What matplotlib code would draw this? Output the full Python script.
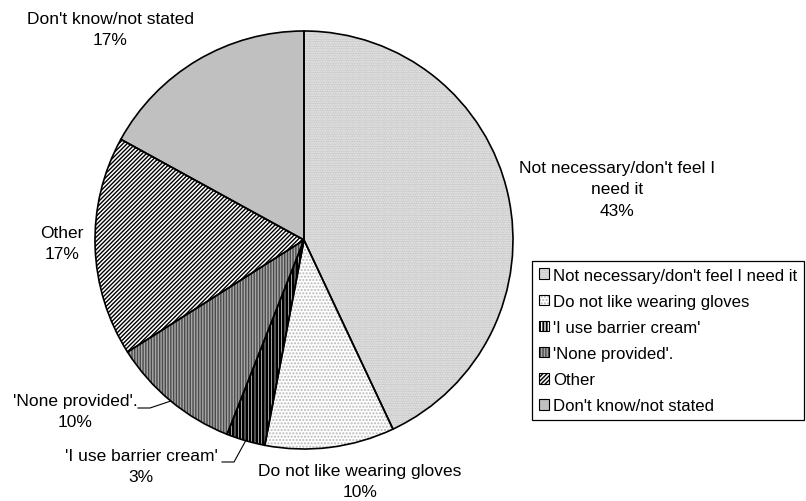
import matplotlib
matplotlib.use("Agg")
import matplotlib.pyplot as plt
import matplotlib.patches as mpatches
import numpy as np

plt.rcParams['font.family'] = ['Liberation Sans', 'DejaVu Sans']
plt.rcParams['hatch.linewidth'] = 1.0

# Reasons for not wearing gloves (percent of respondents)
categories = [
    "Not necessary/don't feel I need it",
    "Do not like wearing gloves",
    "'I use barrier cream'",
    "'None provided'.",
    "Other",
    "Don't know/not stated",
]
slice_labels = [
    "Not necessary/don't feel I\nneed it",
    "Do not like wearing gloves",
    "'I use barrier cream'",
    "'None provided'.",
    "Other",
    "Don't know/not stated",
]
values = [43, 10, 3, 10, 17, 17]

# Fill styles (face colour, hatch pattern, hatch colour, hatch line width)
faces = ['#c8c8c8', 'white', 'black', '#a8a8a8', 'white', '#c0c0c0']
hatches = ['.......', '.....', '|||||', '||||||', '////////', None]
hatch_colors = ['#ececec', '#b8b8b8', 'white', '#4a4a4a', 'black', 'none']
hatch_widths = [1.0, 1.0, 0.45, 1.0, 1.0, 1.0]


def style(patch, fc, h, hc, hw):
    patch.set_facecolor(fc)
    patch.set_edgecolor(hc)
    patch.set_linewidth(0)
    if h:
        patch.set_hatch(h)
        if hasattr(patch, 'set_hatch_linewidth'):
            patch.set_hatch_linewidth(hw)


W, H = 806, 502
fig = plt.figure(figsize=(W / 100, H / 100), dpi=100)
ax = fig.add_axes([0, 0, 1, 1])

cx, cy, r = 304, H - 241, 209

fills, _ = ax.pie(values, startangle=90, counterclock=False,
                  center=(cx, cy), radius=r)
for w, fc, h, hc, hw in zip(fills, faces, hatches, hatch_colors, hatch_widths):
    style(w, fc, h, hc, hw)

outlines, _ = ax.pie(values, startangle=90, counterclock=False,
                     center=(cx, cy), radius=r,
                     wedgeprops=dict(facecolor='none', edgecolor='black',
                                     linewidth=1.2))

ax.set_xlim(0, W)
ax.set_ylim(0, H)
ax.set_aspect('equal')
ax.axis('off')

fs = 12.5
# label block centres in pixel coordinates (x, y from top)
label_pos = [(617, 190), (360, 482), (141, 467), (75, 412), (62, 244), (110, 30)]
for lab, v, (px, py) in zip(slice_labels, values, label_pos):
    ax.text(px, H - py, f"{lab}\n{v}%", ha='center', va='center',
            fontsize=fs, linespacing=1.5, color='black')

# leader lines for the two small slices on the lower left
cum = np.cumsum([0] + values)
leaders = {2: (222, 463), 3: (138, 409)}
for i, (lx, ly) in leaders.items():
    mid = (cum[i] + cum[i + 1]) / 2 / sum(values) * 360
    th = np.deg2rad(90 - mid)
    ex, ey = cx + r * np.cos(th), cy + r * np.sin(th)
    ax.plot([lx, lx + 12, ex], [H - ly, H - ly, ey], color='black', lw=0.8)

# legend with hatched swatches outlined in black
handles = []
for fc, h, hc, hw in zip(faces, hatches, hatch_colors, hatch_widths):
    fill = mpatches.Patch()
    style(fill, fc, h, hc, hw)
    edge = mpatches.Patch(facecolor='none', edgecolor='black', linewidth=0.8)
    handles.append((fill, edge))

leg = fig.legend(handles, categories, loc='upper left',
                 bbox_to_anchor=(532 / W, 1 - 262 / H),
                 bbox_transform=fig.transFigure, borderaxespad=0,
                 fontsize=12.1, frameon=True, fancybox=False, shadow=False,
                 framealpha=1, edgecolor='black', borderpad=0.4,
                 labelspacing=0.66, handlelength=0.6, handleheight=0.6,
                 handletextpad=0.25)
leg.get_frame().set_linewidth(0.9)

fig.savefig('out.png', dpi=100)
